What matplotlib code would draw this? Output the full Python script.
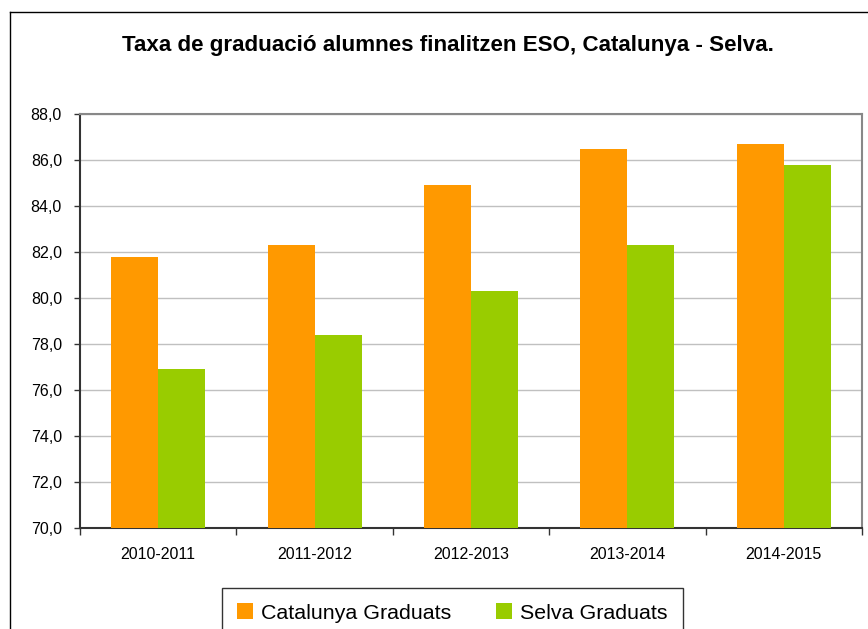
import numpy as np
import matplotlib
matplotlib.use("Agg")
import matplotlib.pyplot as plt
from matplotlib.lines import Line2D

plt.rcParams['font.family'] = ['Liberation Sans', 'DejaVu Sans']

cursos = ["2010-2011", "2011-2012", "2012-2013", "2013-2014", "2014-2015"]
catalunya = [81.8, 82.3, 84.9, 86.5, 86.7]
selva = [76.9, 78.4, 80.3, 82.3, 85.8]
yticks = [70, 72, 74, 76, 78, 80, 82, 84, 86, 88]

W, H = 868, 629
fig = plt.figure(figsize=(W / 100, H / 100), dpi=100)
ax = fig.add_axes([80 / W, 1 - 528 / H, (862 - 80) / W, (528 - 114) / H])

x = np.arange(len(cursos))
w = 0.3
ax.bar(x - w / 2, catalunya, w, color="#FF9900", label="Catalunya Graduats", zorder=3)
ax.bar(x + w / 2, selva, w, color="#99CC00", label="Selva Graduats", zorder=3)

ax.set_ylim(70, 88)
ax.set_xlim(-0.5, len(cursos) - 0.5)
ax.set_yticks(yticks)
ax.set_yticklabels([f"{v:.1f}".replace(".", ",") for v in yticks], fontsize=11.5)
ax.yaxis.grid(True, color="#c0c0c0", linewidth=1, zorder=0)

ax.set_xticks(x)
ax.set_xticklabels(cursos, fontsize=11.5)
ax.set_xticks(np.arange(len(cursos) + 1) - 0.5, minor=True)
ax.tick_params(axis="x", which="major", length=0, pad=14)
ax.tick_params(axis="x", which="minor", length=5, width=1, color="#333333", direction="out")
ax.tick_params(axis="y", length=4, width=1, color="#333333", pad=9, direction="out")

for s in ["top", "right"]:
    ax.spines[s].set_color("#888888")
    ax.spines[s].set_linewidth(1.5)
for s in ["left", "bottom"]:
    ax.spines[s].set_color("#333333")
    ax.spines[s].set_linewidth(1.5)

fig.text(448 / W, 1 - 45 / H, "Taxa de graduació alumnes finalitzen ESO, Catalunya - Selva.",
         ha="center", va="center", fontsize=16.1, fontweight="bold")

# chart border (cut off at the right and bottom)
fig.add_artist(Line2D([10 / W, 10 / W], [0, 1 - 12 / H], color="black", linewidth=1))
fig.add_artist(Line2D([10 / W, 1], [1 - 12 / H, 1 - 12 / H], color="black", linewidth=1))

leg = fig.legend(loc="upper left", bbox_to_anchor=(222 / W, 1 - 588 / H), ncol=2,
                 fontsize=15.4, frameon=True, fancybox=False, borderpad=0.72,
                 handlelength=0.75, handleheight=0.75, handletextpad=0.35,
                 columnspacing=2.1, borderaxespad=0)
leg.get_frame().set_edgecolor("black")
leg.get_frame().set_linewidth(1)

fig.savefig("out.png", dpi=100)
